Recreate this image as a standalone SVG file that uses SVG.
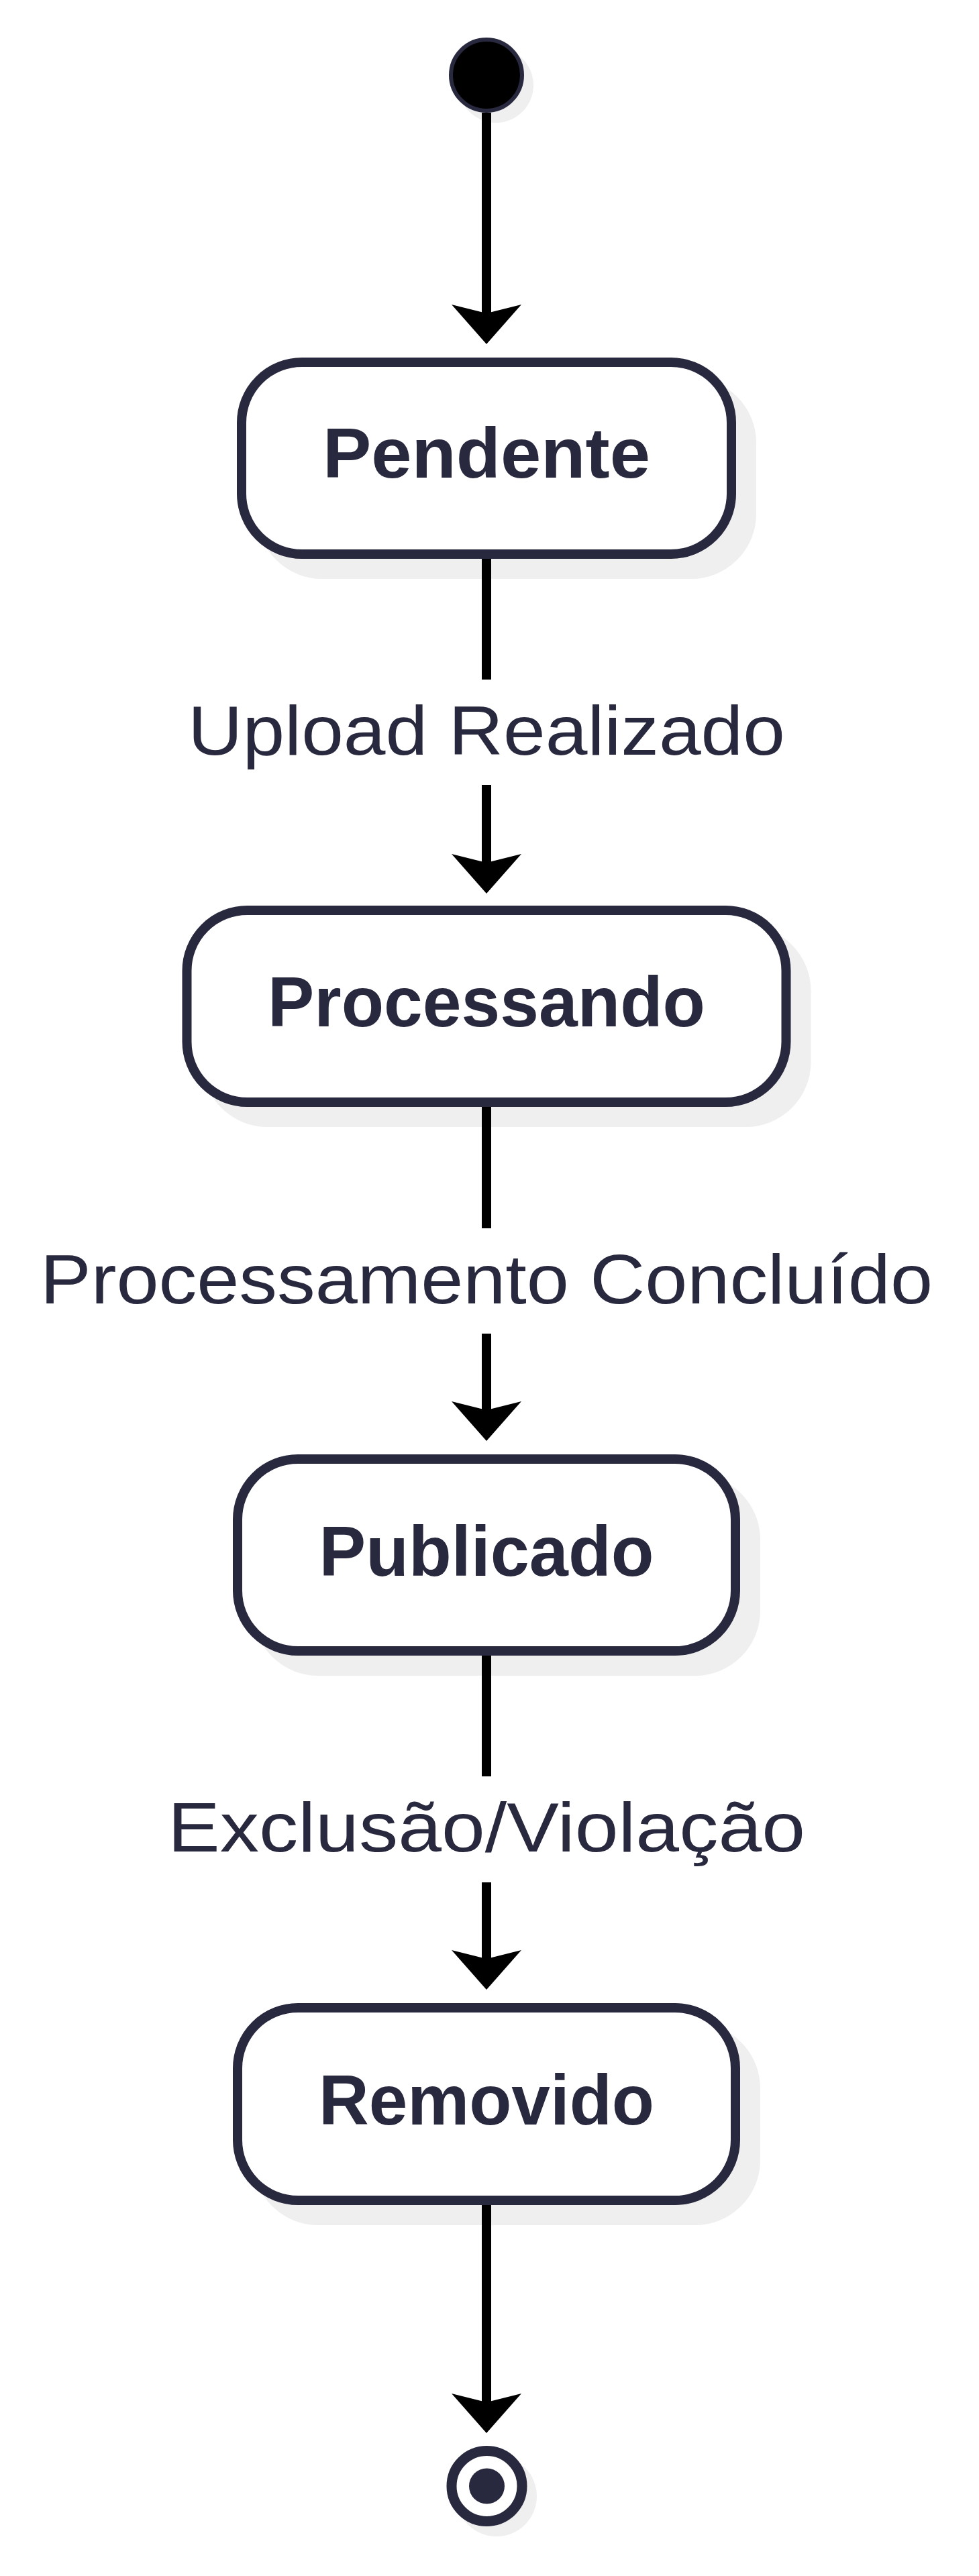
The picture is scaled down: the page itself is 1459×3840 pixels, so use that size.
<svg xmlns="http://www.w3.org/2000/svg" width="1459" height="3840" viewBox="0 0 1459 3840">
<style>
.bg{fill:#ffffff}
.shadow{fill:#efefef;stroke:#efefef;stroke-width:14}
.state{fill:#ffffff;stroke:#28283e;stroke-width:14}
.title{font-family:"Liberation Sans",Arial,sans-serif;font-weight:bold;font-size:105px;fill:#28283e;text-anchor:middle}
.edge{fill:none;stroke:#000000;stroke-width:14;marker-end:url(#arrow)}
.lblbg{fill:#ffffff}
.lbl{font-family:"Liberation Sans",Arial,sans-serif;font-size:104px;fill:#28283e;text-anchor:middle}
</style>
<defs>
<marker id="arrow" markerUnits="userSpaceOnUse" markerWidth="120" markerHeight="120" refX="13" refY="0" orient="auto" overflow="visible" viewBox="-10 -60 120 120">
<path d="M0,-52 L13,0 L0,52 L59,0 Z" fill="#000000"/>
</marker>
</defs>
<rect class="bg" x="0" y="0" width="1459" height="3840"/>

<g id="start">
<circle cx="739" cy="127" r="56" fill="#efefef"/>
<circle cx="725" cy="112" r="53" fill="#000000" stroke="#28283e" stroke-width="6"/>
</g>

<g id="pendente">
<rect class="shadow" x="390" y="570" width="730" height="286" rx="90" ry="90"/>
<rect class="state" x="360" y="540" width="730" height="286" rx="90" ry="90"/>
<text class="title" x="725" y="712" textLength="488" lengthAdjust="spacingAndGlyphs">Pendente</text>
</g>

<g id="processando">
<rect class="shadow" x="308.5" y="1387" width="893" height="286" rx="90" ry="90"/>
<rect class="state" x="278.5" y="1357" width="893" height="286" rx="90" ry="90"/>
<text class="title" x="725" y="1530" textLength="652" lengthAdjust="spacingAndGlyphs">Processando</text>
</g>

<g id="publicado">
<rect class="shadow" x="384" y="2205" width="742" height="286" rx="90" ry="90"/>
<rect class="state" x="354" y="2175" width="742" height="286" rx="90" ry="90"/>
<text class="title" x="725" y="2349" textLength="499" lengthAdjust="spacingAndGlyphs">Publicado</text>
</g>

<g id="removido">
<rect class="shadow" x="384" y="3023" width="742" height="287" rx="90" ry="90"/>
<rect class="state" x="354" y="2993" width="742" height="287" rx="90" ry="90"/>
<text class="title" x="725" y="3167" textLength="500" lengthAdjust="spacingAndGlyphs">Removido</text>
</g>

<g id="end">
<circle cx="740" cy="3721" r="60" fill="#efefef"/>
<circle cx="725.5" cy="3706" r="52.5" fill="#ffffff" stroke="#28283e" stroke-width="15"/>
<circle cx="725.5" cy="3706" r="26.5" fill="#28283e"/>
</g>

<g id="connectors">
<g id="edge-start-pendente">
<path class="edge" d="M725,168 L725,467"/>
</g>
<g id="edge-pendente-processando">
<path class="edge" d="M725,833 L725,1286"/>
<rect class="lblbg" x="275" y="1013" width="900" height="157"/>
<text class="lbl" x="725" y="1125" textLength="890" lengthAdjust="spacingAndGlyphs">Upload Realizado</text>
</g>
<g id="edge-processando-publicado">
<path class="edge" d="M725,1650 L725,2102"/>
<rect class="lblbg" x="55" y="1831" width="1340" height="157"/>
<text class="lbl" x="725" y="1943" textLength="1330" lengthAdjust="spacingAndGlyphs">Processamento Concluído</text>
</g>
<g id="edge-publicado-removido">
<path class="edge" d="M725,2468 L725,2920"/>
<rect class="lblbg" x="240" y="2648" width="970" height="158"/>
<text class="lbl" x="725" y="2760" textLength="950" lengthAdjust="spacingAndGlyphs">Exclusão/Violação</text>
</g>
<g id="edge-removido-end">
<path class="edge" d="M725,3287 L725,3581"/>
</g>
</g>
</svg>
